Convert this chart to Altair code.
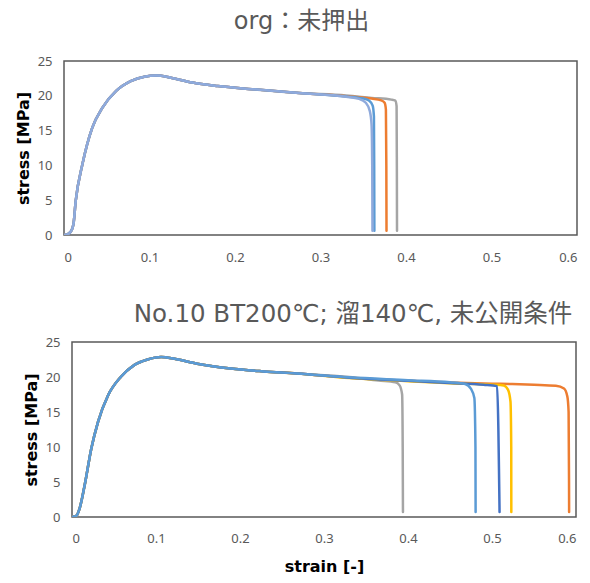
import altair as alt
import pandas as pd

# ---------------- axis ticks ----------------
x_ticks = [0, 0.1, 0.2, 0.3, 0.4, 0.5, 0.6]
y_ticks = [0, 5, 10, 15, 20, 25]

# ---------------- panel 1 : org ----------------
org_rise_strain = [0.0, 0.004, 0.008, 0.011, 0.0137, 0.0216, 0.033, 0.045, 0.061, 0.078, 0.094, 0.108, 0.125, 0.15, 0.18, 0.22, 0.275]
org_rise_stress = [0.0, 0.1, 0.5, 1.5, 4.9, 10.2, 15.4, 18.3, 20.7, 22.1, 22.75, 22.9, 22.6, 21.9, 21.4, 20.95, 20.4]

org_gray_strain = [0.33, 0.36, 0.383, 0.3875, 0.389, 0.3893, 0.3895]
org_gray_stress = [20.05, 19.7, 19.45, 19.3, 18.5, 10.0, 0.6]
org_orange_strain = [0.33, 0.36, 0.371, 0.375, 0.3765, 0.377, 0.3772]
org_orange_stress = [19.95, 19.6, 19.35, 19.0, 18.0, 10.0, 0.6]
org_blue_strain = [0.33, 0.35, 0.357, 0.361, 0.3625, 0.3628, 0.363]
org_blue_stress = [19.9, 19.6, 19.3, 18.6, 17.0, 10.0, 0.6]
org_lblue_strain = [0.33, 0.345, 0.353, 0.3577, 0.3597, 0.3605, 0.3608]
org_lblue_stress = [19.85, 19.55, 19.0, 17.8, 15.9, 10.0, 0.6]

# ---------------- panel 2 : No.10 ----------------
no10_rise_strain = [0.0, 0.005, 0.009, 0.015, 0.023, 0.031, 0.043, 0.058, 0.074, 0.09, 0.106, 0.122, 0.149, 0.189, 0.228, 0.268]
no10_rise_stress = [0.0, 0.15, 1.2, 4.5, 9.8, 13.6, 17.4, 20.0, 21.7, 22.5, 22.85, 22.6, 21.9, 21.2, 20.8, 20.5]

no10_gray_strain = [0.33, 0.365, 0.385, 0.39, 0.393, 0.3937, 0.394]
no10_gray_stress = [20.0, 19.5, 19.25, 18.8, 17.5, 10.0, 0.7]
no10_lblue_strain = [0.33, 0.40, 0.45, 0.468, 0.475, 0.479, 0.4803, 0.4805]
no10_lblue_stress = [19.95, 19.55, 19.25, 19.0, 18.3, 17.0, 10.0, 0.7]
no10_dblue_strain = [0.33, 0.40, 0.45, 0.49, 0.506, 0.509]
no10_dblue_stress = [19.9, 19.45, 19.15, 18.9, 18.7, 0.7]
no10_yellow_strain = [0.33, 0.40, 0.45, 0.50, 0.514, 0.519, 0.522, 0.5229, 0.523]
no10_yellow_stress = [19.85, 19.4, 19.1, 18.9, 18.8, 18.2, 16.5, 10.0, 0.7]
no10_orange_strain = [0.33, 0.40, 0.45, 0.50, 0.524, 0.55, 0.576, 0.5857, 0.5897, 0.5912, 0.5917, 0.5918]
no10_orange_stress = [19.9, 19.45, 19.2, 19.05, 19.0, 18.9, 18.75, 18.35, 17.2, 15.0, 5.0, 0.7]

org_series = [
    ("gray", "#A5A5A5", org_gray_strain, org_gray_stress),
    ("orange", "#ED7D31", org_orange_strain, org_orange_stress),
    ("blue", "#5B9BD5", org_blue_strain, org_blue_stress),
    ("lightblue", "#8FAADC", org_lblue_strain, org_lblue_stress),
]
no10_series = [
    ("orange", "#ED7D31", no10_orange_strain, no10_orange_stress),
    ("gray", "#A5A5A5", no10_gray_strain, no10_gray_stress),
    ("yellow", "#FFC000", no10_yellow_strain, no10_yellow_stress),
    ("darkblue", "#4472C4", no10_dblue_strain, no10_dblue_stress),
    ("blue", "#5B9BD5", no10_lblue_strain, no10_lblue_stress),
]


def build(rise_x, rise_y, series):
    rows = []
    for name, _c, xs, ys in series:
        for i, (x, y) in enumerate(zip(rise_x + xs, rise_y + ys)):
            rows.append({"series": name, "strain": x, "stress": y, "idx": i})
    return pd.DataFrame(rows)


LABEL_FONT = "Noto Sans"
TITLE_FONT = "DejaVu Sans, Noto Sans CJK JP"
AXIS_TITLE_FONT = "DejaVu Sans"


def panel(df, series, title_text, title_size, title_offset, title_dx, width, height, x_title, x_lpad):
    if x_title:
        xaxis = alt.Axis(values=x_ticks, format=".1~f", domain=False, ticks=False, grid=False,
                         labelFont=LABEL_FONT, labelFontSize=13, labelColor="#595959", labelPadding=x_lpad,
                         title=x_title, titleFont=AXIS_TITLE_FONT, titleFontSize=16, titleFontWeight="bold",
                         titleColor="#000000", titlePadding=13)
    else:
        xaxis = alt.Axis(values=x_ticks, format=".1~f", domain=False, ticks=False, grid=False,
                         labelFont=LABEL_FONT, labelFontSize=13, labelColor="#595959", labelPadding=x_lpad,
                         title=None)
    yaxis = alt.Axis(values=y_ticks, domain=False, ticks=False, grid=False,
                     labelFont=LABEL_FONT, labelFontSize=13, labelColor="#595959", labelPadding=12,
                     title="stress [MPa]", titleFont=AXIS_TITLE_FONT, titleFontSize=16, titleFontWeight="bold",
                     titleColor="#000000", titlePadding=6)
    layers = []
    for name, color, _xs, _ys in series:
        layers.append(
            alt.Chart(df)
            .transform_filter(alt.datum.series == name)
            .mark_line(color=color, strokeWidth=2.5, interpolate="monotone", clip=True, strokeCap="round")
            .encode(
                x=alt.X("strain:Q", scale=alt.Scale(domain=[0, 0.6], nice=False, zero=False), axis=xaxis),
                y=alt.Y("stress:Q", scale=alt.Scale(domain=[0, 25], nice=False), axis=yaxis),
                order="idx:Q",
            )
        )
    return alt.layer(*layers).properties(
        width=width,
        height=height,
        view=alt.ViewBackground(stroke="#595959", strokeWidth=1.5, strokeOpacity=1),
        title=alt.TitleParams(
            text=title_text, font=TITLE_FONT, fontSize=title_size, fontWeight="normal",
            color="#595959", anchor="middle", frame="group", baseline="alphabetic",
            offset=title_offset, dx=title_dx,
        ),
    )


def spacer():
    return (
        alt.Chart(pd.DataFrame({"v": [0]}))
        .mark_point(opacity=0, size=1)
        .encode(x=alt.X("v:Q", axis=None), y=alt.Y("v:Q", axis=None))
        .properties(width=1, height=1, view=alt.ViewBackground(strokeOpacity=0))
    )


df_org = build(org_rise_strain, org_rise_stress, org_series)
df_no10 = build(no10_rise_strain, no10_rise_stress, no10_series)

top = panel(df_org, org_series, "org：未押出", 24, 2, -19, 513, 174, None, 16)
bottom = panel(df_no10, no10_series, "No.10 BT200℃; 溜140℃, 未公開条件", 24.5, -10, 29, 504, 175, "strain [-]", 15)

row1 = alt.hconcat(spacer(), top, spacing=0)
row2 = alt.hconcat(spacer(), bottom, spacing=8)

chart = (
    alt.concat(row1, row2, columns=1, spacing=35)
    .properties(align="none", padding={"left": 13, "top": 9, "right": 0, "bottom": 0}, background="white")
    .configure_view(strokeOpacity=0)
)

chart.save("out.html", embed_options={"renderer": "svg", "actions": False})
